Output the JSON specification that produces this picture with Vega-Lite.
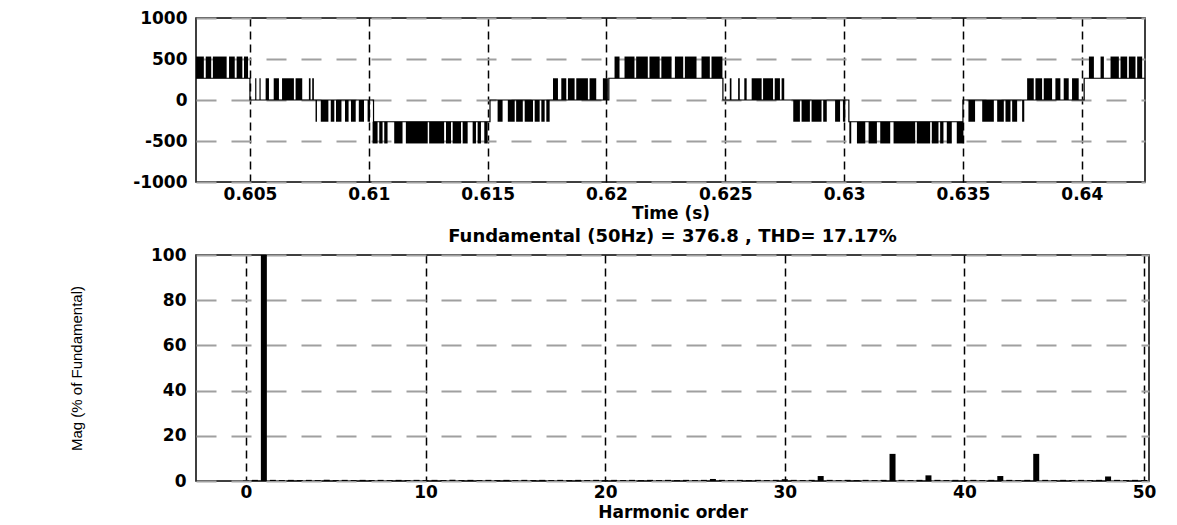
{
  "$schema": "https://vega.github.io/schema/vega-lite/v6.json",
  "background": "white",
  "padding": {"left": 68, "top": 8, "right": 0, "bottom": 0},
  "spacing": 5,
  "config": {
    "view": {"stroke": "black", "strokeWidth": 1.5},
    "axis": {
      "labelFont": "DejaVu Sans", "labelFontWeight": "bold", "labelFontSize": 17, "labelColor": "black",
      "titleFont": "DejaVu Sans", "titleFontWeight": "bold", "titleFontSize": 17, "titleColor": "black",
      "ticks": false, "domain": false, "labelFlush": false, "labelOverlap": false
    },
    "axisX": {"gridColor": "black", "gridDash": [8, 5], "gridWidth": 1.5, "gridOpacity": 1},
    "axisY": {"gridColor": "#a0a0a0", "gridDash": [20, 15], "gridWidth": 2, "gridOpacity": 1}
  },
  "datasets": {
    "steps": [
      {"t": 0.60273, "v": 265}, {"t": 0.6050, "v": 0}, {"t": 0.6077, "v": 0}, {"t": 0.6102, "v": -265},
      {"t": 0.6151, "v": 0}, {"t": 0.6177, "v": 0}, {"t": 0.6201, "v": 265}, {"t": 0.6249, "v": 0},
      {"t": 0.6275, "v": 0}, {"t": 0.6302, "v": -265}, {"t": 0.6350, "v": 0}, {"t": 0.6376, "v": 0},
      {"t": 0.6401, "v": 265}, {"t": 0.64266, "v": 265}
    ],
    "pulses": [
      {"t0": 0.60273, "t1": 0.60306, "lo": 265, "hi": 530},
      {"t0": 0.60314, "t1": 0.60337, "lo": 265, "hi": 530},
      {"t0": 0.60344, "t1": 0.60402, "lo": 265, "hi": 530},
      {"t0": 0.60412, "t1": 0.60436, "lo": 265, "hi": 530},
      {"t0": 0.60444, "t1": 0.60468, "lo": 265, "hi": 530},
      {"t0": 0.60475, "t1": 0.60492, "lo": 265, "hi": 530},
      {"t0": 0.60522, "t1": 0.60527, "lo": 0, "hi": 265},
      {"t0": 0.60540, "t1": 0.60545, "lo": 0, "hi": 265},
      {"t0": 0.60566, "t1": 0.60580, "lo": 0, "hi": 265},
      {"t0": 0.60600, "t1": 0.60622, "lo": 0, "hi": 265},
      {"t0": 0.60635, "t1": 0.60685, "lo": 0, "hi": 265},
      {"t0": 0.60692, "t1": 0.60720, "lo": 0, "hi": 265},
      {"t0": 0.60748, "t1": 0.60755, "lo": 0, "hi": 265},
      {"t0": 0.60762, "t1": 0.60769, "lo": 0, "hi": 265},
      {"t0": 0.60776, "t1": 0.60782, "lo": 0, "hi": -265},
      {"t0": 0.60798, "t1": 0.60830, "lo": 0, "hi": -265},
      {"t0": 0.60840, "t1": 0.60855, "lo": 0, "hi": -265},
      {"t0": 0.60862, "t1": 0.60885, "lo": 0, "hi": -265},
      {"t0": 0.60900, "t1": 0.60915, "lo": 0, "hi": -265},
      {"t0": 0.60925, "t1": 0.60945, "lo": 0, "hi": -265},
      {"t0": 0.60958, "t1": 0.60980, "lo": 0, "hi": -265},
      {"t0": 0.60995, "t1": 0.61005, "lo": 0, "hi": -265},
      {"t0": 0.61016, "t1": 0.61037, "lo": -265, "hi": -530},
      {"t0": 0.61044, "t1": 0.61058, "lo": -265, "hi": -530},
      {"t0": 0.61065, "t1": 0.61079, "lo": -265, "hi": -530},
      {"t0": 0.61107, "t1": 0.61142, "lo": -265, "hi": -530},
      {"t0": 0.61156, "t1": 0.61248, "lo": -265, "hi": -530},
      {"t0": 0.61254, "t1": 0.61317, "lo": -265, "hi": -530},
      {"t0": 0.61325, "t1": 0.61346, "lo": -265, "hi": -530},
      {"t0": 0.61353, "t1": 0.61388, "lo": -265, "hi": -530},
      {"t0": 0.61395, "t1": 0.61416, "lo": -265, "hi": -530},
      {"t0": 0.61437, "t1": 0.61451, "lo": -265, "hi": -530},
      {"t0": 0.61458, "t1": 0.61472, "lo": -265, "hi": -530},
      {"t0": 0.61486, "t1": 0.61500, "lo": -265, "hi": -530},
      {"t0": 0.61542, "t1": 0.61563, "lo": 0, "hi": -265},
      {"t0": 0.61585, "t1": 0.61614, "lo": 0, "hi": -265},
      {"t0": 0.61620, "t1": 0.61648, "lo": 0, "hi": -265},
      {"t0": 0.61656, "t1": 0.61691, "lo": 0, "hi": -265},
      {"t0": 0.61698, "t1": 0.61719, "lo": 0, "hi": -265},
      {"t0": 0.61726, "t1": 0.61740, "lo": 0, "hi": -265},
      {"t0": 0.61747, "t1": 0.61761, "lo": 0, "hi": -265},
      {"t0": 0.61775, "t1": 0.61796, "lo": 0, "hi": 265},
      {"t0": 0.61810, "t1": 0.61831, "lo": 0, "hi": 265},
      {"t0": 0.61838, "t1": 0.61866, "lo": 0, "hi": 265},
      {"t0": 0.61873, "t1": 0.61922, "lo": 0, "hi": 265},
      {"t0": 0.61929, "t1": 0.61957, "lo": 0, "hi": 265},
      {"t0": 0.61985, "t1": 0.62006, "lo": 0, "hi": 265},
      {"t0": 0.62034, "t1": 0.62055, "lo": 265, "hi": 530},
      {"t0": 0.62076, "t1": 0.62118, "lo": 265, "hi": 530},
      {"t0": 0.62125, "t1": 0.62174, "lo": 265, "hi": 530},
      {"t0": 0.62181, "t1": 0.62224, "lo": 265, "hi": 530},
      {"t0": 0.62231, "t1": 0.62274, "lo": 265, "hi": 530},
      {"t0": 0.62288, "t1": 0.62323, "lo": 265, "hi": 530},
      {"t0": 0.62330, "t1": 0.62379, "lo": 265, "hi": 530},
      {"t0": 0.62400, "t1": 0.62435, "lo": 265, "hi": 530},
      {"t0": 0.62442, "t1": 0.62488, "lo": 265, "hi": 530},
      {"t0": 0.62519, "t1": 0.62526, "lo": 0, "hi": 265},
      {"t0": 0.62554, "t1": 0.62561, "lo": 0, "hi": 265},
      {"t0": 0.62580, "t1": 0.62590, "lo": 0, "hi": 265},
      {"t0": 0.62611, "t1": 0.62653, "lo": 0, "hi": 265},
      {"t0": 0.62659, "t1": 0.62701, "lo": 0, "hi": 265},
      {"t0": 0.62708, "t1": 0.62730, "lo": 0, "hi": 265},
      {"t0": 0.62737, "t1": 0.62748, "lo": 0, "hi": 265},
      {"t0": 0.62786, "t1": 0.62814, "lo": 0, "hi": -265},
      {"t0": 0.62821, "t1": 0.62856, "lo": 0, "hi": -265},
      {"t0": 0.62863, "t1": 0.62905, "lo": 0, "hi": -265},
      {"t0": 0.62912, "t1": 0.62927, "lo": 0, "hi": -265},
      {"t0": 0.62962, "t1": 0.62983, "lo": 0, "hi": -265},
      {"t0": 0.62995, "t1": 0.63005, "lo": 0, "hi": -265},
      {"t0": 0.63022, "t1": 0.63030, "lo": -265, "hi": -530},
      {"t0": 0.63054, "t1": 0.63089, "lo": -265, "hi": -530},
      {"t0": 0.63103, "t1": 0.63138, "lo": -265, "hi": -530},
      {"t0": 0.63152, "t1": 0.63194, "lo": -265, "hi": -530},
      {"t0": 0.63208, "t1": 0.63299, "lo": -265, "hi": -530},
      {"t0": 0.63306, "t1": 0.63362, "lo": -265, "hi": -530},
      {"t0": 0.63369, "t1": 0.63397, "lo": -265, "hi": -530},
      {"t0": 0.63404, "t1": 0.63418, "lo": -265, "hi": -530},
      {"t0": 0.63432, "t1": 0.63453, "lo": -265, "hi": -530},
      {"t0": 0.63474, "t1": 0.63502, "lo": -265, "hi": -530},
      {"t0": 0.63523, "t1": 0.63551, "lo": 0, "hi": -265},
      {"t0": 0.63581, "t1": 0.63630, "lo": 0, "hi": -265},
      {"t0": 0.63644, "t1": 0.63672, "lo": 0, "hi": -265},
      {"t0": 0.63679, "t1": 0.63700, "lo": 0, "hi": -265},
      {"t0": 0.63707, "t1": 0.63728, "lo": 0, "hi": -265},
      {"t0": 0.63749, "t1": 0.63758, "lo": 0, "hi": -265},
      {"t0": 0.63770, "t1": 0.63798, "lo": 0, "hi": 265},
      {"t0": 0.63805, "t1": 0.63833, "lo": 0, "hi": 265},
      {"t0": 0.63840, "t1": 0.63875, "lo": 0, "hi": 265},
      {"t0": 0.63889, "t1": 0.63910, "lo": 0, "hi": 265},
      {"t0": 0.63924, "t1": 0.63945, "lo": 0, "hi": 265},
      {"t0": 0.63959, "t1": 0.63987, "lo": 0, "hi": 265},
      {"t0": 0.64030, "t1": 0.64051, "lo": 265, "hi": 530},
      {"t0": 0.64079, "t1": 0.64093, "lo": 265, "hi": 530},
      {"t0": 0.64121, "t1": 0.64156, "lo": 265, "hi": 530},
      {"t0": 0.64163, "t1": 0.64191, "lo": 265, "hi": 530},
      {"t0": 0.64198, "t1": 0.64226, "lo": 265, "hi": 530},
      {"t0": 0.64233, "t1": 0.64254, "lo": 265, "hi": 530}
    ],
    "harm": [
      {"h": 0, "mag": 0.2}, {"h": 0.5, "mag": 0.5}, {"h": 1, "mag": 100}, {"h": 1.5, "mag": 0.5},
      {"h": 2, "mag": 0.4}, {"h": 2.5, "mag": 0.5}, {"h": 3, "mag": 0.4}, {"h": 3.5, "mag": 0.5},
      {"h": 4, "mag": 0.4}, {"h": 4.5, "mag": 0.5}, {"h": 5, "mag": 0.4}, {"h": 5.5, "mag": 0.5},
      {"h": 6, "mag": 0.4}, {"h": 6.5, "mag": 0.5}, {"h": 7, "mag": 0.4}, {"h": 7.5, "mag": 0.5},
      {"h": 8, "mag": 0.4}, {"h": 8.5, "mag": 0.5}, {"h": 9, "mag": 0.4}, {"h": 9.5, "mag": 0.5},
      {"h": 10, "mag": 0.4}, {"h": 10.5, "mag": 0.5}, {"h": 11, "mag": 0.4}, {"h": 11.5, "mag": 0.5},
      {"h": 12, "mag": 0.4}, {"h": 12.5, "mag": 0.5}, {"h": 13, "mag": 0.4}, {"h": 13.5, "mag": 0.5},
      {"h": 14, "mag": 0.4}, {"h": 14.5, "mag": 0.5}, {"h": 15, "mag": 0.4}, {"h": 15.5, "mag": 0.5},
      {"h": 16, "mag": 0.4}, {"h": 16.5, "mag": 0.5}, {"h": 17, "mag": 0.4}, {"h": 17.5, "mag": 0.5},
      {"h": 18, "mag": 0.4}, {"h": 18.5, "mag": 0.5}, {"h": 19, "mag": 0.4}, {"h": 19.5, "mag": 0.5},
      {"h": 20, "mag": 0.4}, {"h": 20.5, "mag": 0.5}, {"h": 21, "mag": 0.4}, {"h": 21.5, "mag": 0.5},
      {"h": 22, "mag": 0.4}, {"h": 22.5, "mag": 0.5}, {"h": 23, "mag": 0.4}, {"h": 23.5, "mag": 0.5},
      {"h": 24, "mag": 0.4}, {"h": 24.5, "mag": 0.5}, {"h": 25, "mag": 0.4}, {"h": 25.5, "mag": 0.5},
      {"h": 26, "mag": 0.9}, {"h": 26.5, "mag": 0.5}, {"h": 27, "mag": 0.4}, {"h": 27.5, "mag": 0.5},
      {"h": 28, "mag": 0.4}, {"h": 28.5, "mag": 0.5}, {"h": 29, "mag": 0.4}, {"h": 29.5, "mag": 0.5},
      {"h": 30, "mag": 0.8}, {"h": 30.5, "mag": 0.5}, {"h": 31, "mag": 0.4}, {"h": 31.5, "mag": 0.5},
      {"h": 32, "mag": 2.2}, {"h": 32.5, "mag": 0.5}, {"h": 33, "mag": 0.4}, {"h": 33.5, "mag": 0.5},
      {"h": 34, "mag": 0.4}, {"h": 34.5, "mag": 0.5}, {"h": 35, "mag": 0.4}, {"h": 35.5, "mag": 0.5},
      {"h": 36, "mag": 12}, {"h": 36.5, "mag": 0.5}, {"h": 37, "mag": 0.4}, {"h": 37.5, "mag": 0.5},
      {"h": 38, "mag": 2.5}, {"h": 38.5, "mag": 0.5}, {"h": 39, "mag": 0.4}, {"h": 39.5, "mag": 0.5},
      {"h": 40, "mag": 0.4}, {"h": 40.5, "mag": 0.5}, {"h": 41, "mag": 0.4}, {"h": 41.5, "mag": 0.5},
      {"h": 42, "mag": 2.2}, {"h": 42.5, "mag": 0.5}, {"h": 43, "mag": 0.4}, {"h": 43.5, "mag": 0.5},
      {"h": 44, "mag": 12}, {"h": 44.5, "mag": 0.5}, {"h": 45, "mag": 0.4}, {"h": 45.5, "mag": 0.5},
      {"h": 46, "mag": 0.4}, {"h": 46.5, "mag": 0.5}, {"h": 47, "mag": 0.4}, {"h": 47.5, "mag": 0.5},
      {"h": 48, "mag": 2.0}, {"h": 48.5, "mag": 0.5}, {"h": 49, "mag": 0.4}, {"h": 49.5, "mag": 0.5},
      {"h": 50, "mag": 0.4}
    ]
  },
  "vconcat": [
    {
      "width": 949,
      "height": 164,
      "layer": [
        {
          "data": {"name": "pulses"},
          "mark": {"type": "rect", "color": "black", "clip": true},
          "encoding": {
            "x": {"field": "t0", "type": "quantitative",
              "scale": {"domain": [0.60273, 0.64266], "zero": false, "nice": false},
              "axis": {"values": [0.605, 0.61, 0.615, 0.62, 0.625, 0.63, 0.635, 0.64],
                "labelExpr": "'' + datum.value", "title": "Time (s)", "labelPadding": 4, "titlePadding": 3}},
            "x2": {"field": "t1"},
            "y": {"field": "lo", "type": "quantitative",
              "scale": {"domain": [-1000, 1000], "nice": false},
              "axis": {"values": [-1000, -500, 0, 500, 1000], "labelExpr": "'' + datum.value",
                "title": null, "labelPadding": 9}},
            "y2": {"field": "hi"}
          }
        },
        {
          "data": {"name": "steps"},
          "mark": {"type": "line", "interpolate": "step-after", "color": "black", "strokeWidth": 1.2, "clip": true},
          "encoding": {
            "x": {"field": "t", "type": "quantitative"},
            "y": {"field": "v", "type": "quantitative"}
          }
        }
      ]
    },
    {
      "width": 953,
      "height": 226,
      "title": {"text": "Fundamental (50Hz) = 376.8 , THD= 17.17%", "font": "DejaVu Sans", "fontWeight": "bold",
        "fontSize": 18, "color": "black", "anchor": "middle", "offset": 0},
      "data": {"name": "harm"},
      "mark": {"type": "bar", "size": 6, "color": "black", "clip": true},
      "encoding": {
        "x": {"field": "h", "type": "quantitative",
          "scale": {"domain": [-2.5, 50], "zero": false, "nice": false},
          "axis": {"values": [0, 10, 20, 30, 40, 50], "title": "Harmonic order", "labelPadding": 3, "titlePadding": 4}},
        "y": {"field": "mag", "type": "quantitative",
          "scale": {"domain": [0, 100], "nice": false},
          "axis": {"values": [0, 20, 40, 60, 80, 100], "title": "Mag (% of Fundamental)",
            "titleFont": "Liberation Sans", "titleFontWeight": "normal", "titleFontSize": 15,
            "titlePadding": 66, "labelPadding": 10}}
      }
    }
  ]
}
